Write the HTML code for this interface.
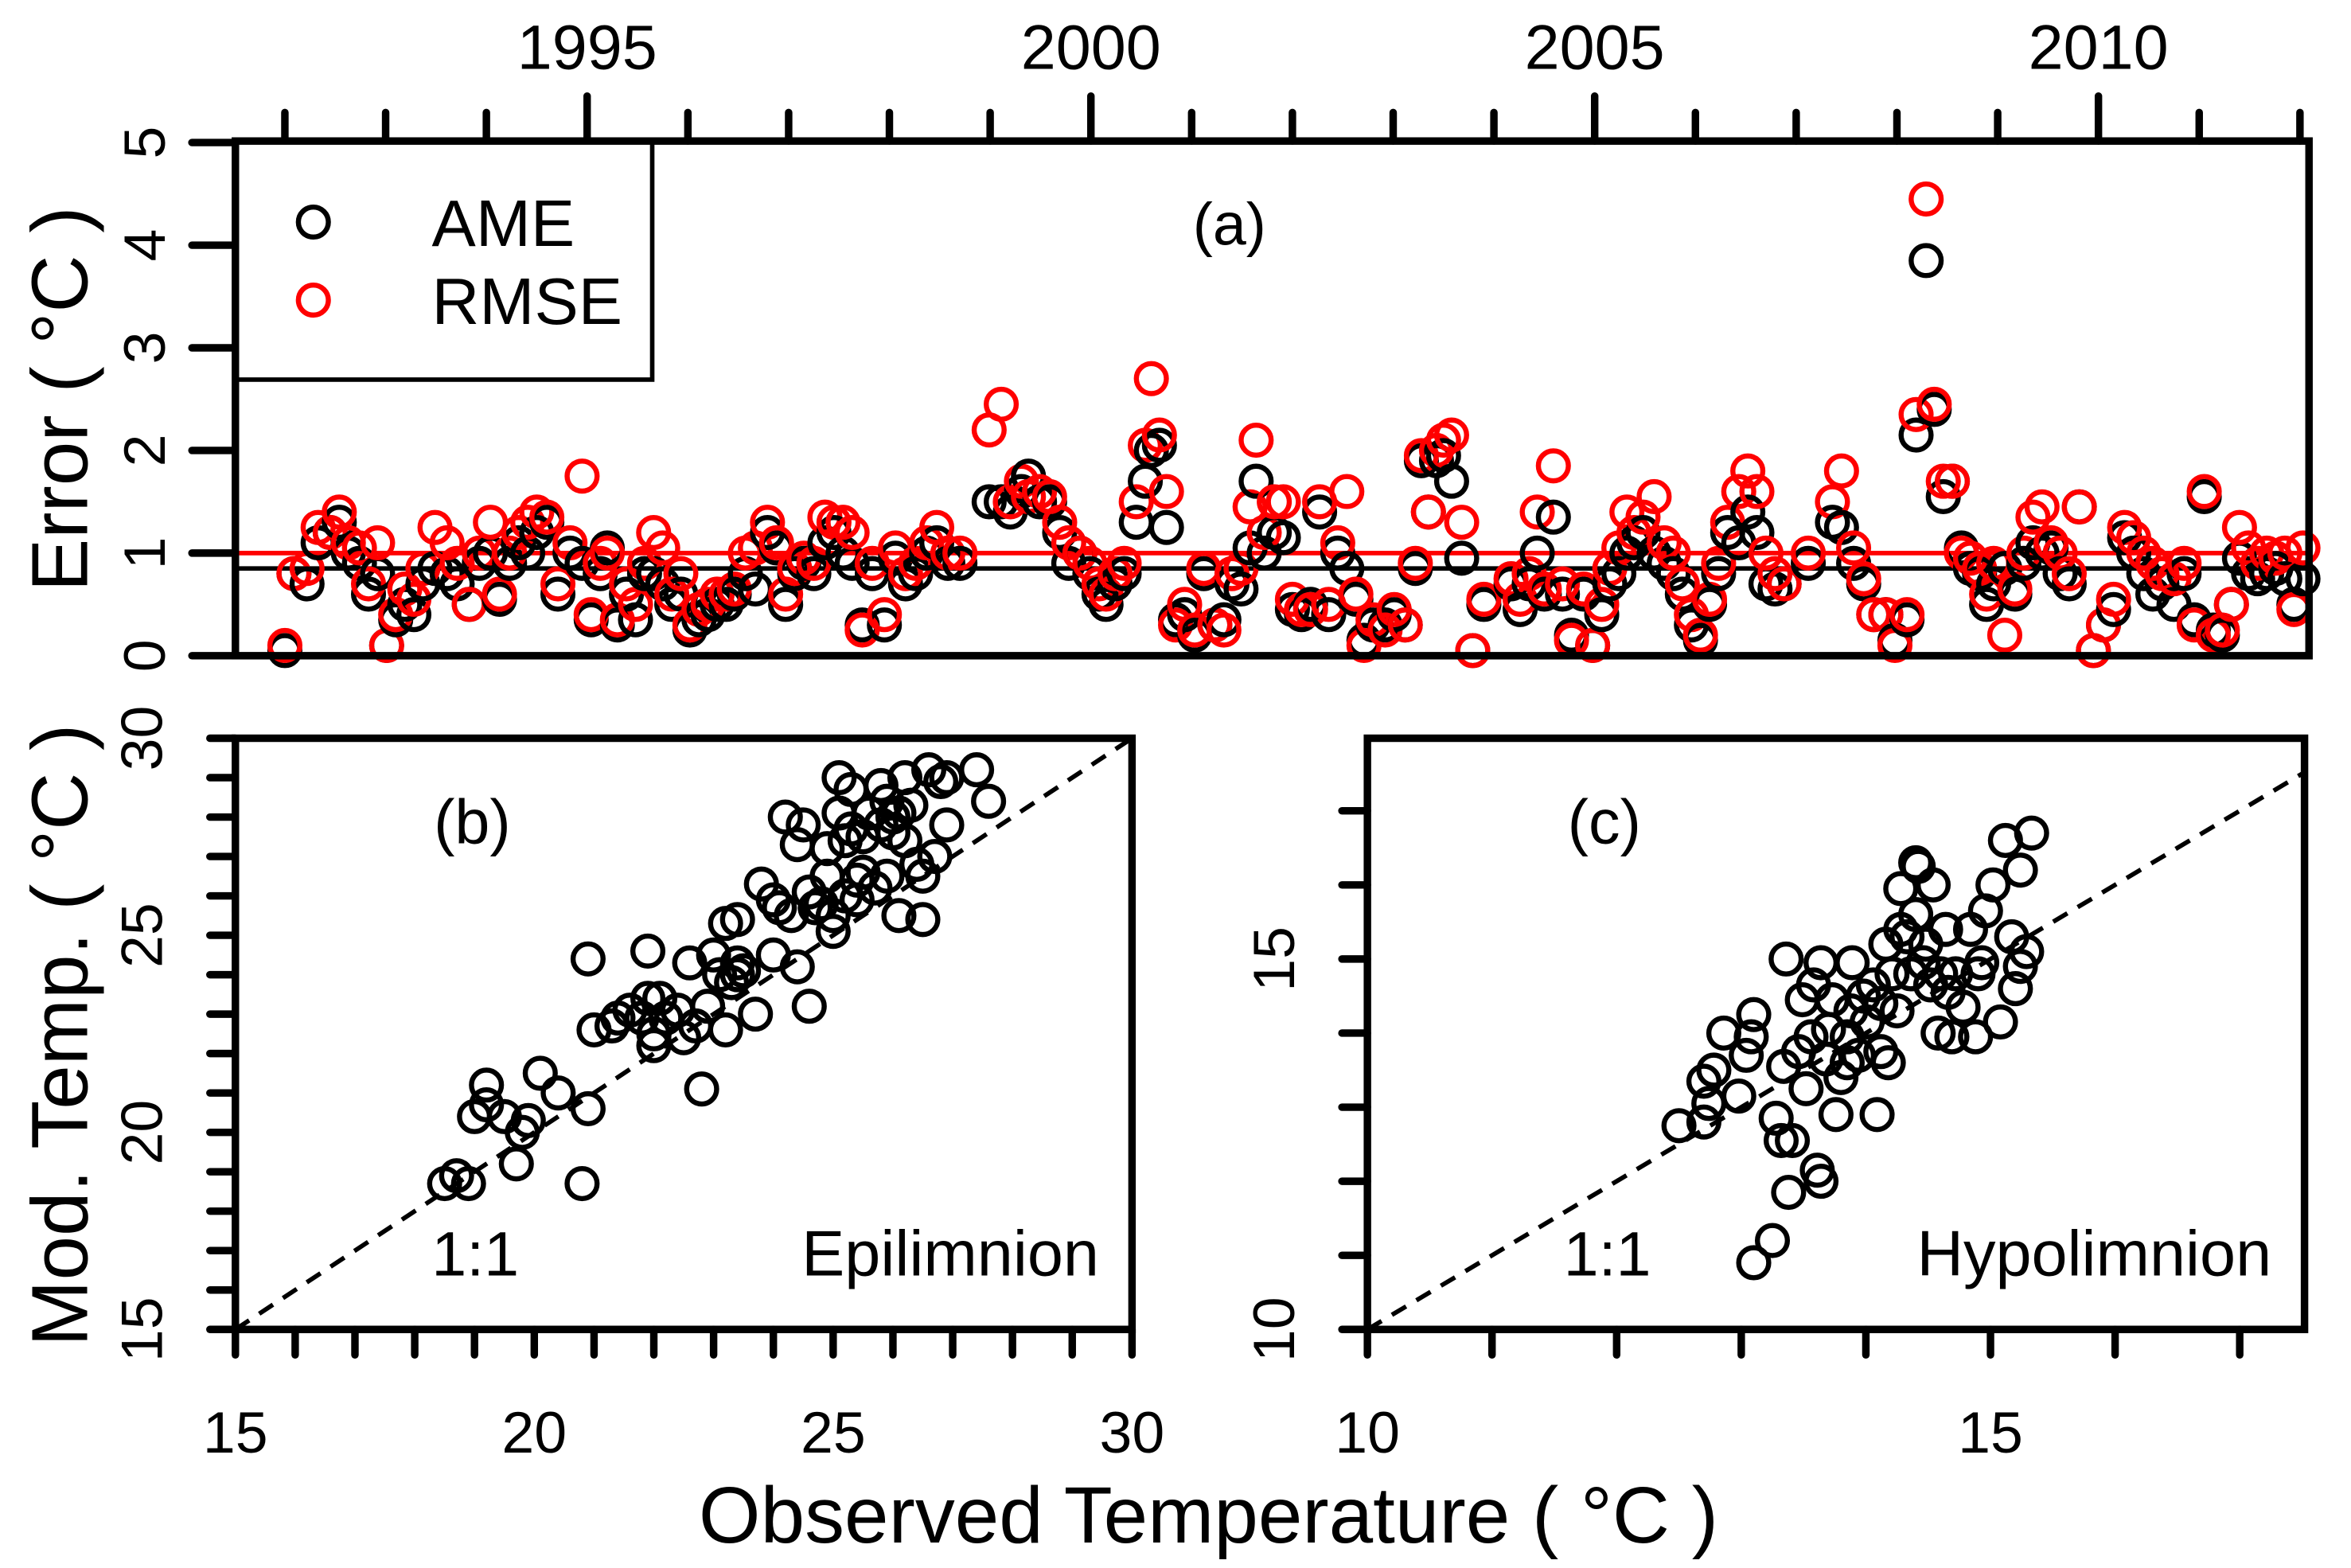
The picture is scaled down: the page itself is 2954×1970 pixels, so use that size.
<!DOCTYPE html>
<html><head><meta charset="utf-8"><style>
html,body{margin:0;padding:0;background:#fff}
svg{display:block}
text{font-family:"Liberation Sans",sans-serif;fill:#000}
</style></head><body>
<svg id="fig" width="2954" height="1970" viewBox="0 0 1568 1045" preserveAspectRatio="none" xmlns="http://www.w3.org/2000/svg">
<rect width="1568" height="1045" fill="#fff"/>
<g id="gA"></g>
<g id="gB"></g>
<g id="gC"></g>
</svg>
<script>
const years=[1992.00,1992.09,1992.22,1992.33,1992.45,1992.54,1992.63,1992.74,1992.83,1992.92,1993.01,1993.10,1993.19,1993.28,1993.37,1993.49,1993.61,1993.71,1993.83,1993.93,1994.04,1994.13,1994.23,1994.32,1994.41,1994.50,1994.60,1994.71,1994.83,1994.95,1995.04,1995.13,1995.20,1995.30,1995.39,1995.48,1995.57,1995.66,1995.75,1995.84,1995.93,1996.02,1996.11,1996.20,1996.29,1996.38,1996.46,1996.57,1996.67,1996.79,1996.88,1996.97,1997.06,1997.15,1997.25,1997.36,1997.45,1997.54,1997.63,1997.73,1997.83,1997.95,1998.06,1998.16,1998.26,1998.37,1998.47,1998.58,1998.70,1998.99,1999.11,1999.20,1999.31,1999.38,1999.49,1999.59,1999.69,1999.78,1999.89,1999.99,2000.08,2000.15,2000.24,2000.33,2000.45,2000.54,2000.60,2000.68,2000.75,2000.84,2000.93,2001.03,2001.12,2001.23,2001.32,2001.40,2001.49,2001.58,2001.64,2001.72,2001.82,2001.91,2002.00,2002.09,2002.18,2002.27,2002.36,2002.45,2002.54,2002.63,2002.71,2002.80,2002.92,2003.01,2003.12,2003.22,2003.28,2003.35,2003.43,2003.50,2003.58,2003.68,2003.79,2003.90,2004.17,2004.26,2004.35,2004.43,2004.50,2004.59,2004.68,2004.77,2004.89,2004.98,2005.07,2005.15,2005.24,2005.32,2005.39,2005.48,2005.59,2005.69,2005.78,2005.87,2005.96,2006.05,2006.14,2006.23,2006.32,2006.43,2006.52,2006.61,2006.70,2006.79,2006.88,2007.12,2007.36,2007.45,2007.57,2007.67,2007.77,2007.89,2007.98,2008.10,2008.19,2008.29,2008.37,2008.46,2008.55,2008.64,2008.73,2008.82,2008.89,2008.96,2009.07,2009.17,2009.26,2009.35,2009.44,2009.53,2009.62,2009.71,2009.81,2009.95,2010.05,2010.15,2010.26,2010.35,2010.45,2010.54,2010.63,2010.75,2010.85,2010.95,2011.05,2011.14,2011.23,2011.32,2011.40,2011.49,2011.58,2011.67,2011.76,2011.85,2011.94,2012.03];
const ame=[0.05,0.8,0.7,1.1,1.2,1.3,1.0,0.9,0.6,0.8,0.1,0.35,0.5,0.4,0.7,0.85,0.8,0.7,0.5,0.9,1.0,0.55,0.9,1.1,1.0,1.2,1.3,0.6,1.0,0.9,0.35,0.8,1.05,0.3,0.6,0.35,0.8,0.8,0.7,0.5,0.6,0.25,0.35,0.4,0.5,0.5,0.6,0.8,0.65,1.2,1.05,0.5,0.8,0.9,0.8,1.1,1.2,1.0,0.9,0.3,0.8,0.3,0.95,0.7,0.8,1.0,1.1,0.9,0.9,1.5,1.5,1.4,1.6,1.75,1.5,1.5,1.2,0.9,1.0,0.8,0.6,0.5,0.7,0.8,1.3,1.7,2.0,2.05,1.25,0.35,0.4,0.2,0.8,0.3,0.35,0.7,0.65,1.05,1.7,1.0,1.2,1.15,0.45,0.4,0.5,1.4,0.4,1.0,0.85,0.55,0.15,0.3,0.3,0.4,0.3,0.85,1.9,1.4,1.9,1.95,1.7,0.95,0.05,0.5,0.7,0.45,0.7,1.0,0.6,1.35,0.6,0.2,0.6,0.1,0.4,0.7,0.8,1.0,1.1,1.2,1.0,0.9,0.8,0.6,0.3,0.15,0.5,0.8,1.2,1.1,1.4,1.2,0.7,0.65,0.7,0.9,1.3,1.25,0.9,0.7,0.4,0.4,0.15,0.35,2.15,3.85,2.4,1.55,1.7,1.05,0.85,0.8,0.5,0.7,0.85,0.6,0.9,1.1,1.0,1.05,0.8,0.7,1.45,0.05,0.3,0.45,1.15,1.0,0.8,0.6,0.7,0.5,0.8,0.35,1.55,0.25,0.2,0.5,0.95,0.8,0.75,0.8,0.85,0.75,0.5,0.75];
const rmse=[0.1,0.8,0.85,1.25,1.2,1.4,1.1,1.05,0.7,1.1,0.1,0.4,0.65,0.55,0.85,1.25,1.1,0.9,0.5,1.0,1.3,0.6,1.0,1.2,1.3,1.4,1.35,0.7,1.1,1.75,0.4,0.9,1.0,0.35,0.7,0.5,0.9,1.2,1.05,0.6,0.8,0.3,0.45,0.5,0.6,0.6,0.65,1.0,1.05,1.3,1.1,0.6,0.85,0.95,0.9,1.35,1.3,1.3,1.2,0.25,0.9,0.4,1.05,0.8,0.9,1.1,1.25,1.0,1.0,2.2,2.45,1.5,1.7,1.55,1.6,1.55,1.3,1.1,1.0,0.9,0.7,0.6,0.8,0.9,1.5,2.05,2.7,2.15,1.6,0.3,0.5,0.25,0.85,0.3,0.25,0.8,0.85,1.45,2.1,1.2,1.5,1.5,0.55,0.45,0.45,1.5,0.5,1.1,1.6,0.6,0.1,0.35,0.25,0.45,0.3,0.9,1.95,1.4,2.0,2.1,2.15,1.3,0.05,0.55,0.75,0.55,0.8,1.4,0.65,1.85,0.7,0.15,0.65,0.1,0.5,0.85,1.05,1.4,1.2,1.35,1.55,1.1,1.0,0.7,0.4,0.2,0.55,0.9,1.3,1.6,1.8,1.6,1.0,0.8,0.7,1.0,1.5,1.8,1.05,0.75,0.4,0.4,0.1,0.4,2.35,4.45,2.45,1.7,1.7,1.0,0.95,0.85,0.6,0.9,0.2,0.65,1.0,1.35,1.45,1.1,1.0,0.8,1.45,0.05,0.3,0.55,1.25,1.15,1.0,0.9,0.8,0.75,0.9,0.3,1.6,0.2,0.25,0.5,1.25,1.05,0.9,1.0,0.95,1.0,0.45,1.05];
const ameMean=0.85, rmseMean=1.0;
const yearTicks=[1995,2000,2005,2010];
const errTicks=[0,1,2,3,4,5];
const epiObs=[18.5,18.7,18.9,19.0,19.2,19.2,19.5,19.7,19.8,19.9,20.1,20.4,20.8,20.9,20.9,21.0,21.3,21.4,21.6,21.8,21.9,21.9,22.0,22.0,22.1,22.2,22.4,22.5,22.6,22.7,22.8,22.9,23.0,23.1,23.2,23.2,23.3,23.4,23.4,23.4,23.5,23.7,23.8,24.0,24.0,24.1,24.2,24.3,24.4,24.4,24.5,24.6,24.6,24.7,24.8,24.9,24.9,25.0,25.0,25.1,25.1,25.2,25.2,25.3,25.3,25.4,25.4,25.5,25.5,25.6,25.7,25.8,25.9,25.9,26.0,26.1,26.1,26.2,26.3,26.4,26.5,26.5,26.6,26.7,26.8,26.9,26.9,27.4,27.6,26.2,25.8,26.0];
const epiMod=[18.7,18.9,18.7,20.4,20.7,21.2,20.4,19.2,20.0,20.3,21.5,21.0,18.7,20.6,24.4,22.6,22.7,22.9,23.1,22.9,24.6,23.4,22.2,22.5,23.4,22.9,23.1,22.4,24.3,22.7,21.1,23.2,24.5,24.0,25.3,22.6,23.8,25.4,24.0,24.3,24.1,23.0,26.3,25.9,24.5,25.7,28.0,25.5,27.3,24.2,27.8,23.2,26.1,25.7,25.8,26.5,27.2,25.1,25.5,28.1,29.0,26.0,27.4,27.7,28.7,26.4,25.9,26.6,27.5,28.1,26.2,27.8,28.4,26.5,27.6,28.1,25.5,27.4,28.3,26.8,26.5,25.4,29.2,27.0,28.9,29.0,27.8,29.2,28.4,29.0,28.8,28.0];
const hypObs=[12.5,12.7,12.7,12.78,12.86,12.98,13.08,13.1,13.1,13.25,13.28,13.32,13.34,13.36,13.38,13.41,13.46,13.49,13.52,13.56,13.58,13.61,13.64,13.68,13.7,13.73,13.76,13.8,13.85,13.88,13.89,13.94,13.98,14.01,14.06,14.09,14.12,14.16,14.18,14.21,14.25,14.28,14.28,14.33,14.36,14.4,14.42,14.46,14.48,14.52,14.54,14.58,14.6,14.64,14.66,14.69,14.72,14.78,14.84,14.88,14.93,14.96,15.02,15.08,15.12,15.17,15.2,15.24,15.29,12.74,13.04,13.64,13.85,14.12,14.4,14.9,15.24,15.33];
const hypMod=[12.75,12.8,13.35,13.5,14.0,13.15,13.95,14.25,10.9,11.2,12.85,12.55,13.55,15.0,11.85,12.55,13.75,14.45,13.25,13.95,14.65,12.15,12.0,13.65,14.05,14.45,12.9,13.4,13.95,14.3,14.95,13.7,14.5,14.15,14.65,12.9,14.4,15.2,13.6,14.8,14.3,15.95,15.4,15.3,14.8,15.6,16.25,14.95,15.2,14.65,16.0,14.0,14.8,15.4,14.55,13.95,14.8,14.35,15.4,13.95,14.95,15.65,16.0,14.15,16.6,15.3,14.6,14.9,15.1,13.05,13.7,14.95,13.6,13.75,16.3,14.8,16.2,16.7];

const NS="http://www.w3.org/2000/svg";
function mk(parent,tag,attrs,txt){const e=document.createElementNS(NS,tag);for(const k in attrs)e.setAttribute(k,attrs[k]);if(txt!==undefined)e.textContent=txt;parent.appendChild(e);return e;}
function lin(d0,d1,p0,p1){return v=>p0+(v-d0)*(p1-p0)/(d1-d0);}
const LW=5, CR=10, CW=3.4;

// Panel A
const gA=document.getElementById('gA');
const ax={l:157,r:1540,t:94,b:437};
const xA=lin(1992,2012.09,190,1540), yA=lin(0,5,437,95);
for(let yr=1992;yr<=2012;yr++){const major=yr%5===0;
const t=mk(gA,'line',{x1:xA(yr),x2:xA(yr),y1:ax.t,y2:major?64:75,stroke:'#000','stroke-width':LW,'stroke-linecap':'round'});

}
yearTicks.forEach(yr=>{const t=mk(gA,'text',{x:xA(yr),y:46,'font-size':42,'text-anchor':'middle'},String(yr));

});
errTicks.forEach(v=>{const t=mk(gA,'line',{x1:ax.l,x2:ax.l-29,y1:yA(v),y2:yA(v),stroke:'#000','stroke-width':LW,'stroke-linecap':'round'});


const l=mk(gA,'text',{x:0,y:0,'font-size':39,'text-anchor':'middle',transform:`translate(110,${yA(v)}) rotate(-90)`},String(v));

});
const tA=mk(gA,'text',{x:0,y:0,'font-size':53,'text-anchor':'middle',transform:'translate(58,266) rotate(-90)'},'Error ( °C )');


const hl1=mk(gA,'line',{x1:ax.l,x2:ax.r,y1:yA(ameMean),y2:yA(ameMean),stroke:'#000','stroke-width':3});


const hl2=mk(gA,'line',{x1:ax.l,x2:ax.r,y1:yA(rmseMean),y2:yA(rmseMean),stroke:'#f00','stroke-width':3});


years.forEach((yr,i)=>{
const c1=mk(gA,'circle',{cx:xA(yr),cy:yA(ame[i]),r:CR,fill:'none',stroke:'#000','stroke-width':CW});


const c2=mk(gA,'circle',{cx:xA(yr),cy:yA(rmse[i]),r:CR,fill:'none',stroke:'#f00','stroke-width':CW});

});
const lg=mk(gA,'g',{});


mk(lg,'rect',{x:ax.l,y:ax.t,width:278,height:159,fill:'#fff',stroke:'#000','stroke-width':3});
const le1=mk(lg,'circle',{cx:209,cy:148,r:CR,fill:'none',stroke:'#000','stroke-width':CW});


mk(lg,'text',{x:288,y:164,'font-size':44},'AME');
const le2=mk(lg,'circle',{cx:209,cy:200,r:CR,fill:'none',stroke:'#f00','stroke-width':CW});


mk(lg,'text',{x:288,y:216,'font-size':44},'RMSE');
const pa=mk(gA,'text',{x:820,y:163,'font-size':40,'text-anchor':'middle'},'(a)');


const fA=mk(gA,'rect',{x:ax.l,y:ax.t,width:ax.r-ax.l,height:ax.b-ax.t,fill:'none',stroke:'#000','stroke-width':LW});



// scatter panels
function scatter(g,box,xmin,xmax,ymin,ymax,xs,ys,labels,tickStep,lblX,plabel,region){
const X=lin(xmin,xmax,box.l,box.r),Y=lin(ymin,ymax,box.b,box.t);
for(let v=Math.ceil(xmin);v<=xmax+1e-9;v+=tickStep){const t=mk(g,'line',{x1:X(v),x2:X(v),y1:box.b,y2:box.b+17,stroke:'#000','stroke-width':LW,'stroke-linecap':'round'});

}
for(let v=Math.ceil(ymin);v<=ymax+1e-9;v+=tickStep){const t=mk(g,'line',{x1:box.l,x2:box.l-17,y1:Y(v),y2:Y(v),stroke:'#000','stroke-width':LW,'stroke-linecap':'round'});

}
labels.forEach(v=>{
if(v<=xmax){const l=mk(g,'text',{x:X(v),y:968,'font-size':39,'text-anchor':'middle'},String(v));

}
if(v<=ymax){const l=mk(g,'text',{x:0,y:0,'font-size':39,'text-anchor':'middle',transform:`translate(${lblX},${Y(v)}) rotate(-90)`},String(v));

}});
const lo=Math.max(xmin,ymin),hi=Math.min(xmax,ymax);
const d=mk(g,'line',{x1:X(lo),y1:Y(lo),x2:X(hi),y2:Y(hi),stroke:'#000','stroke-width':3,'stroke-dasharray':'11,8'});


xs.forEach((v,i)=>{const c=mk(g,'circle',{cx:X(v),cy:Y(ys[i]),r:CR,fill:'none',stroke:'#000','stroke-width':CW});

});
const p=mk(g,'text',{x:box.l+158,y:562,'font-size':42,'text-anchor':'middle'},plabel);


const o=mk(g,'text',{x:box.l+160,y:850,'font-size':42,'text-anchor':'middle'},'1:1');


const r=mk(g,'text',{x:box.r-22,y:850,'font-size':43,'text-anchor':'end'},region);


const f=mk(g,'rect',{x:box.l,y:box.t,width:box.r-box.l,height:box.b-box.t,fill:'none',stroke:'#000','stroke-width':LW});

}
const epiLabels=[15,20,25,30], hypLabels=[10,15];
scatter(document.getElementById('gB'),{l:157,r:755,t:492,b:886},15,30,15,30,epiObs,epiMod,epiLabels,1,108,'(b)','Epilimnion');
scatter(document.getElementById('gC'),{l:912,r:1537,t:492,b:886},10,17.52,10,17.98,hypObs,hypMod,hypLabels,1,863,'(c)','Hypolimnion');
const svg=document.getElementById('fig');
const yt=mk(svg,'text',{x:0,y:0,'font-size':53,'text-anchor':'middle',transform:'translate(58,690) rotate(-90)'},'Mod. Temp. ( °C )');


const xt=mk(svg,'text',{x:806,y:1028,'font-size':53,'text-anchor':'middle'},'Observed Temperature ( °C )');


</script>
</body></html>
